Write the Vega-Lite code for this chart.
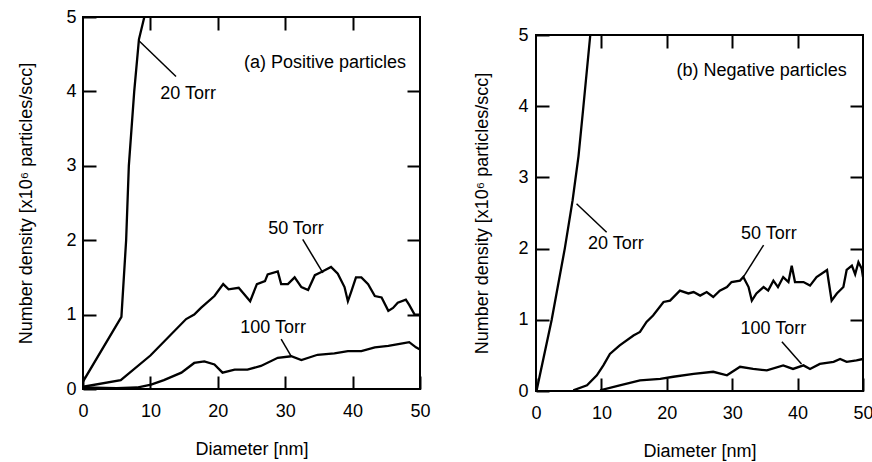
{
  "$schema": "https://vega.github.io/schema/vega-lite/v6.json",
  "autosize": {"type": "pad"},
  "padding": {"left": 16, "top": 7, "right": 0, "bottom": 0},
  "background": "white",
  "config": {
    "view": {"stroke": "black", "strokeWidth": 2},
    "font": "Liberation Sans",
    "axis": {
      "grid": false, "domain": false,
      "tickColor": "black", "tickWidth": 2, "tickSize": -13,
      "labelFont": "Liberation Sans", "labelFontSize": 18, "labelColor": "black",
      "labelFlush": false, "labelOverlap": false,
      "titleFont": "Liberation Sans", "titleFontSize": 18, "titleFontWeight": "normal", "titleColor": "black"
    }
  },
  "datasets": {
    "curves": [
      {"panel": "a", "pressure": "20 Torr", "d": 0, "n": 0.1},
      {"panel": "a", "pressure": "20 Torr", "d": 5.7, "n": 0.97},
      {"panel": "a", "pressure": "20 Torr", "d": 6.4, "n": 2.0},
      {"panel": "a", "pressure": "20 Torr", "d": 6.8, "n": 3.0},
      {"panel": "a", "pressure": "20 Torr", "d": 7.6, "n": 4.0},
      {"panel": "a", "pressure": "20 Torr", "d": 8.3, "n": 4.7},
      {"panel": "a", "pressure": "20 Torr", "d": 9.1, "n": 5.0},

      {"panel": "a", "pressure": "50 Torr", "d": 0, "n": 0.03},
      {"panel": "a", "pressure": "50 Torr", "d": 5.6, "n": 0.12},
      {"panel": "a", "pressure": "50 Torr", "d": 10, "n": 0.45},
      {"panel": "a", "pressure": "50 Torr", "d": 15.3, "n": 0.94},
      {"panel": "a", "pressure": "50 Torr", "d": 16.5, "n": 1.0},
      {"panel": "a", "pressure": "50 Torr", "d": 17.5, "n": 1.09},
      {"panel": "a", "pressure": "50 Torr", "d": 19.5, "n": 1.25},
      {"panel": "a", "pressure": "50 Torr", "d": 20.8, "n": 1.41},
      {"panel": "a", "pressure": "50 Torr", "d": 21.6, "n": 1.34},
      {"panel": "a", "pressure": "50 Torr", "d": 23.1, "n": 1.36},
      {"panel": "a", "pressure": "50 Torr", "d": 24.8, "n": 1.18},
      {"panel": "a", "pressure": "50 Torr", "d": 25.8, "n": 1.41},
      {"panel": "a", "pressure": "50 Torr", "d": 27.0, "n": 1.45},
      {"panel": "a", "pressure": "50 Torr", "d": 27.4, "n": 1.54},
      {"panel": "a", "pressure": "50 Torr", "d": 28.9, "n": 1.58},
      {"panel": "a", "pressure": "50 Torr", "d": 29.4, "n": 1.41},
      {"panel": "a", "pressure": "50 Torr", "d": 30.4, "n": 1.41},
      {"panel": "a", "pressure": "50 Torr", "d": 31.4, "n": 1.5},
      {"panel": "a", "pressure": "50 Torr", "d": 32.4, "n": 1.37},
      {"panel": "a", "pressure": "50 Torr", "d": 33.4, "n": 1.33},
      {"panel": "a", "pressure": "50 Torr", "d": 34.4, "n": 1.53},
      {"panel": "a", "pressure": "50 Torr", "d": 35.3, "n": 1.57},
      {"panel": "a", "pressure": "50 Torr", "d": 36.8, "n": 1.64},
      {"panel": "a", "pressure": "50 Torr", "d": 37.8, "n": 1.55},
      {"panel": "a", "pressure": "50 Torr", "d": 38.8, "n": 1.37},
      {"panel": "a", "pressure": "50 Torr", "d": 39.3, "n": 1.18},
      {"panel": "a", "pressure": "50 Torr", "d": 39.8, "n": 1.31},
      {"panel": "a", "pressure": "50 Torr", "d": 40.5, "n": 1.5},
      {"panel": "a", "pressure": "50 Torr", "d": 41.3, "n": 1.5},
      {"panel": "a", "pressure": "50 Torr", "d": 42.3, "n": 1.41},
      {"panel": "a", "pressure": "50 Torr", "d": 43.3, "n": 1.25},
      {"panel": "a", "pressure": "50 Torr", "d": 44.3, "n": 1.23},
      {"panel": "a", "pressure": "50 Torr", "d": 45.3, "n": 1.05},
      {"panel": "a", "pressure": "50 Torr", "d": 46.0, "n": 1.09},
      {"panel": "a", "pressure": "50 Torr", "d": 46.7, "n": 1.16},
      {"panel": "a", "pressure": "50 Torr", "d": 47.9, "n": 1.2},
      {"panel": "a", "pressure": "50 Torr", "d": 48.4, "n": 1.13},
      {"panel": "a", "pressure": "50 Torr", "d": 49.2, "n": 1.0},
      {"panel": "a", "pressure": "50 Torr", "d": 50, "n": 1.0},

      {"panel": "a", "pressure": "100 Torr", "d": 0, "n": 0.02},
      {"panel": "a", "pressure": "100 Torr", "d": 5, "n": 0.01},
      {"panel": "a", "pressure": "100 Torr", "d": 8, "n": 0.02},
      {"panel": "a", "pressure": "100 Torr", "d": 10.1, "n": 0.06},
      {"panel": "a", "pressure": "100 Torr", "d": 12, "n": 0.12},
      {"panel": "a", "pressure": "100 Torr", "d": 14.6, "n": 0.22},
      {"panel": "a", "pressure": "100 Torr", "d": 16.5, "n": 0.35},
      {"panel": "a", "pressure": "100 Torr", "d": 18, "n": 0.37},
      {"panel": "a", "pressure": "100 Torr", "d": 19.5, "n": 0.33},
      {"panel": "a", "pressure": "100 Torr", "d": 20.7, "n": 0.22},
      {"panel": "a", "pressure": "100 Torr", "d": 22.5, "n": 0.26},
      {"panel": "a", "pressure": "100 Torr", "d": 24.4, "n": 0.26},
      {"panel": "a", "pressure": "100 Torr", "d": 26.4, "n": 0.31},
      {"panel": "a", "pressure": "100 Torr", "d": 28.9, "n": 0.42},
      {"panel": "a", "pressure": "100 Torr", "d": 30.9, "n": 0.44},
      {"panel": "a", "pressure": "100 Torr", "d": 32.4, "n": 0.39},
      {"panel": "a", "pressure": "100 Torr", "d": 34.8, "n": 0.46},
      {"panel": "a", "pressure": "100 Torr", "d": 37.3, "n": 0.48},
      {"panel": "a", "pressure": "100 Torr", "d": 39.3, "n": 0.51},
      {"panel": "a", "pressure": "100 Torr", "d": 41.3, "n": 0.51},
      {"panel": "a", "pressure": "100 Torr", "d": 43.3, "n": 0.56},
      {"panel": "a", "pressure": "100 Torr", "d": 45.3, "n": 0.58},
      {"panel": "a", "pressure": "100 Torr", "d": 47.2, "n": 0.61},
      {"panel": "a", "pressure": "100 Torr", "d": 48.4, "n": 0.63},
      {"panel": "a", "pressure": "100 Torr", "d": 49.4, "n": 0.56},
      {"panel": "a", "pressure": "100 Torr", "d": 50, "n": 0.53},

      {"panel": "b", "pressure": "20 Torr", "d": 0.1, "n": 0.01},
      {"panel": "b", "pressure": "20 Torr", "d": 2.4, "n": 1.0},
      {"panel": "b", "pressure": "20 Torr", "d": 4.4, "n": 2.0},
      {"panel": "b", "pressure": "20 Torr", "d": 5.6, "n": 2.68},
      {"panel": "b", "pressure": "20 Torr", "d": 6.5, "n": 3.3},
      {"panel": "b", "pressure": "20 Torr", "d": 7.2, "n": 3.95},
      {"panel": "b", "pressure": "20 Torr", "d": 8.3, "n": 5.0},

      {"panel": "b", "pressure": "50 Torr", "d": 5.7, "n": 0.01},
      {"panel": "b", "pressure": "50 Torr", "d": 7.8, "n": 0.08},
      {"panel": "b", "pressure": "50 Torr", "d": 9.3, "n": 0.22},
      {"panel": "b", "pressure": "50 Torr", "d": 10.3, "n": 0.36},
      {"panel": "b", "pressure": "50 Torr", "d": 11.3, "n": 0.52},
      {"panel": "b", "pressure": "50 Torr", "d": 12.8, "n": 0.64},
      {"panel": "b", "pressure": "50 Torr", "d": 14.9, "n": 0.78},
      {"panel": "b", "pressure": "50 Torr", "d": 15.9, "n": 0.83},
      {"panel": "b", "pressure": "50 Torr", "d": 16.9, "n": 0.97},
      {"panel": "b", "pressure": "50 Torr", "d": 17.9, "n": 1.06},
      {"panel": "b", "pressure": "50 Torr", "d": 19.5, "n": 1.25},
      {"panel": "b", "pressure": "50 Torr", "d": 20.5, "n": 1.27},
      {"panel": "b", "pressure": "50 Torr", "d": 22.0, "n": 1.41},
      {"panel": "b", "pressure": "50 Torr", "d": 23.3, "n": 1.37},
      {"panel": "b", "pressure": "50 Torr", "d": 24.1, "n": 1.39},
      {"panel": "b", "pressure": "50 Torr", "d": 25.1, "n": 1.34},
      {"panel": "b", "pressure": "50 Torr", "d": 26.1, "n": 1.39},
      {"panel": "b", "pressure": "50 Torr", "d": 27.1, "n": 1.32},
      {"panel": "b", "pressure": "50 Torr", "d": 28.1, "n": 1.41},
      {"panel": "b", "pressure": "50 Torr", "d": 29.2, "n": 1.46},
      {"panel": "b", "pressure": "50 Torr", "d": 29.9, "n": 1.53},
      {"panel": "b", "pressure": "50 Torr", "d": 31.2, "n": 1.55},
      {"panel": "b", "pressure": "50 Torr", "d": 31.7, "n": 1.6},
      {"panel": "b", "pressure": "50 Torr", "d": 32.5, "n": 1.46},
      {"panel": "b", "pressure": "50 Torr", "d": 33.0, "n": 1.27},
      {"panel": "b", "pressure": "50 Torr", "d": 33.7, "n": 1.37},
      {"panel": "b", "pressure": "50 Torr", "d": 34.8, "n": 1.46},
      {"panel": "b", "pressure": "50 Torr", "d": 35.5, "n": 1.41},
      {"panel": "b", "pressure": "50 Torr", "d": 36.3, "n": 1.55},
      {"panel": "b", "pressure": "50 Torr", "d": 37.0, "n": 1.46},
      {"panel": "b", "pressure": "50 Torr", "d": 37.8, "n": 1.6},
      {"panel": "b", "pressure": "50 Torr", "d": 38.6, "n": 1.53},
      {"panel": "b", "pressure": "50 Torr", "d": 39.1, "n": 1.76},
      {"panel": "b", "pressure": "50 Torr", "d": 39.6, "n": 1.53},
      {"panel": "b", "pressure": "50 Torr", "d": 40.9, "n": 1.53},
      {"panel": "b", "pressure": "50 Torr", "d": 41.9, "n": 1.48},
      {"panel": "b", "pressure": "50 Torr", "d": 42.9, "n": 1.6},
      {"panel": "b", "pressure": "50 Torr", "d": 44.5, "n": 1.7},
      {"panel": "b", "pressure": "50 Torr", "d": 44.7, "n": 1.57},
      {"panel": "b", "pressure": "50 Torr", "d": 45.2, "n": 1.27},
      {"panel": "b", "pressure": "50 Torr", "d": 46.0, "n": 1.37},
      {"panel": "b", "pressure": "50 Torr", "d": 47.0, "n": 1.46},
      {"panel": "b", "pressure": "50 Torr", "d": 47.5, "n": 1.7},
      {"panel": "b", "pressure": "50 Torr", "d": 48.3, "n": 1.76},
      {"panel": "b", "pressure": "50 Torr", "d": 48.8, "n": 1.64},
      {"panel": "b", "pressure": "50 Torr", "d": 49.3, "n": 1.81},
      {"panel": "b", "pressure": "50 Torr", "d": 49.8, "n": 1.72},
      {"panel": "b", "pressure": "50 Torr", "d": 50, "n": 1.6},

      {"panel": "b", "pressure": "100 Torr", "d": 9.8, "n": 0.01},
      {"panel": "b", "pressure": "100 Torr", "d": 12.8, "n": 0.08},
      {"panel": "b", "pressure": "100 Torr", "d": 15.9, "n": 0.15},
      {"panel": "b", "pressure": "100 Torr", "d": 19.0, "n": 0.17},
      {"panel": "b", "pressure": "100 Torr", "d": 21.0, "n": 0.2},
      {"panel": "b", "pressure": "100 Torr", "d": 24.1, "n": 0.24},
      {"panel": "b", "pressure": "100 Torr", "d": 27.1, "n": 0.27},
      {"panel": "b", "pressure": "100 Torr", "d": 29.2, "n": 0.22},
      {"panel": "b", "pressure": "100 Torr", "d": 31.2, "n": 0.34},
      {"panel": "b", "pressure": "100 Torr", "d": 33.2, "n": 0.31},
      {"panel": "b", "pressure": "100 Torr", "d": 35.3, "n": 0.29},
      {"panel": "b", "pressure": "100 Torr", "d": 37.8, "n": 0.36},
      {"panel": "b", "pressure": "100 Torr", "d": 39.3, "n": 0.31},
      {"panel": "b", "pressure": "100 Torr", "d": 40.9, "n": 0.36},
      {"panel": "b", "pressure": "100 Torr", "d": 41.9, "n": 0.31},
      {"panel": "b", "pressure": "100 Torr", "d": 43.4, "n": 0.38},
      {"panel": "b", "pressure": "100 Torr", "d": 45.5, "n": 0.41},
      {"panel": "b", "pressure": "100 Torr", "d": 46.5, "n": 0.45},
      {"panel": "b", "pressure": "100 Torr", "d": 47.5, "n": 0.41},
      {"panel": "b", "pressure": "100 Torr", "d": 49.0, "n": 0.43},
      {"panel": "b", "pressure": "100 Torr", "d": 50, "n": 0.45}
    ],
    "notes": [
      {"panel": "a", "label": "(a) Positive particles", "x": 35.9, "y": 4.38},
      {"panel": "a", "label": "20 Torr", "x": 15.6, "y": 3.97},
      {"panel": "a", "label": "50 Torr", "x": 31.6, "y": 2.15},
      {"panel": "a", "label": "100 Torr", "x": 28.2, "y": 0.82},
      {"panel": "b", "label": "(b) Negative particles", "x": 34.5, "y": 4.5},
      {"panel": "b", "label": "20 Torr", "x": 12.2, "y": 2.07},
      {"panel": "b", "label": "50 Torr", "x": 35.6, "y": 2.2},
      {"panel": "b", "label": "100 Torr", "x": 36.3, "y": 0.87}
    ],
    "arrows": [
      {"panel": "a", "x": 13.8, "y": 4.2, "x2": 8.3, "y2": 4.68},
      {"panel": "a", "x": 32.6, "y": 2.01, "x2": 35.6, "y2": 1.56},
      {"panel": "a", "x": 29.4, "y": 0.67, "x2": 30.9, "y2": 0.44},
      {"panel": "b", "x": 10.8, "y": 2.23, "x2": 6.2, "y2": 2.63},
      {"panel": "b", "x": 34.8, "y": 2.05, "x2": 31.7, "y2": 1.6},
      {"panel": "b", "x": 37.6, "y": 0.69, "x2": 40.6, "y2": 0.38}
    ]
  },
  "spacing": 40,
  "hconcat": [
    {
      "width": 337,
      "height": 372,
      "resolve": {"axis": {"x": "independent", "y": "independent"}},
      "layer": [
        {
          "data": {"name": "curves"},
          "transform": [{"filter": "datum.panel === 'a'"}],
          "mark": {"type": "line", "color": "black", "strokeWidth": 2.3, "clip": true},
          "encoding": {
            "x": {"field": "d", "type": "quantitative", "scale": {"domain": [0, 50], "nice": false},
                  "axis": {"orient": "bottom", "values": [0, 10, 20, 30, 40, 50], "title": "Diameter [nm]", "labelPadding": 26, "titlePadding": 20}},
            "y": {"field": "n", "type": "quantitative", "scale": {"domain": [0, 5], "nice": false},
                  "axis": {"orient": "left", "values": [0, 1, 2, 3, 4, 5], "title": "Number density [x10⁶ particles/scc]", "labelPadding": 20, "titlePadding": 30}},
            "detail": {"field": "pressure"}
          }
        },
        {
          "data": {"name": "arrows"},
          "transform": [{"filter": "datum.panel === 'a'"}],
          "mark": {"type": "rule", "color": "black", "strokeWidth": 1.5},
          "encoding": {
            "x": {"field": "x", "type": "quantitative", "axis": null},
            "y": {"field": "y", "type": "quantitative", "axis": null},
            "x2": {"field": "x2"},
            "y2": {"field": "y2"}
          }
        },
        {
          "data": {"name": "notes"},
          "transform": [{"filter": "datum.panel === 'a'"}],
          "mark": {"type": "text", "font": "Liberation Sans", "fontSize": 18, "color": "black", "align": "center", "baseline": "middle"},
          "encoding": {
            "x": {"field": "x", "type": "quantitative",
                  "axis": {"orient": "top", "values": [10, 20, 30, 40], "labels": false, "title": null}},
            "y": {"field": "y", "type": "quantitative",
                  "axis": {"orient": "right", "values": [1, 2, 3, 4], "labels": false, "title": null}},
            "text": {"field": "label"}
          }
        }
      ]
    },
    {
      "spacing": 0,
      "vconcat": [
        {
          "width": 327,
          "height": 6,
          "view": {"stroke": null},
          "data": {"values": [{"t": ""}]},
          "mark": {"type": "text"},
          "encoding": {"text": {"field": "t"}}
        },
        {
          "width": 327,
          "height": 356,
          "resolve": {"axis": {"x": "independent", "y": "independent"}},
          "layer": [
            {
              "data": {"name": "curves"},
              "transform": [{"filter": "datum.panel === 'b'"}],
              "mark": {"type": "line", "color": "black", "strokeWidth": 2.3, "clip": true},
              "encoding": {
                "x": {"field": "d", "type": "quantitative", "scale": {"domain": [0, 50], "nice": false},
                      "axis": {"orient": "bottom", "values": [0, 10, 20, 30, 40, 50], "title": "Diameter [nm]", "labelPadding": 26, "titlePadding": 20}},
                "y": {"field": "n", "type": "quantitative", "scale": {"domain": [0, 5], "nice": false},
                      "axis": {"orient": "left", "values": [0, 1, 2, 3, 4, 5], "title": "Number density [x10⁶ particles/scc]", "labelPadding": 21, "titlePadding": 26}},
                "detail": {"field": "pressure"}
              }
            },
            {
              "data": {"name": "arrows"},
              "transform": [{"filter": "datum.panel === 'b'"}],
              "mark": {"type": "rule", "color": "black", "strokeWidth": 1.5},
              "encoding": {
                "x": {"field": "x", "type": "quantitative", "axis": null},
                "y": {"field": "y", "type": "quantitative", "axis": null},
                "x2": {"field": "x2"},
                "y2": {"field": "y2"}
              }
            },
            {
              "data": {"name": "notes"},
              "transform": [{"filter": "datum.panel === 'b'"}],
              "mark": {"type": "text", "font": "Liberation Sans", "fontSize": 18, "color": "black", "align": "center", "baseline": "middle"},
              "encoding": {
                "x": {"field": "x", "type": "quantitative",
                      "axis": {"orient": "top", "values": [10, 20, 30, 40], "labels": false, "title": null}},
                "y": {"field": "y", "type": "quantitative",
                      "axis": {"orient": "right", "values": [1, 2, 3, 4], "labels": false, "title": null}},
                "text": {"field": "label"}
              }
            }
          ]
        }
      ]
    }
  ]
}
